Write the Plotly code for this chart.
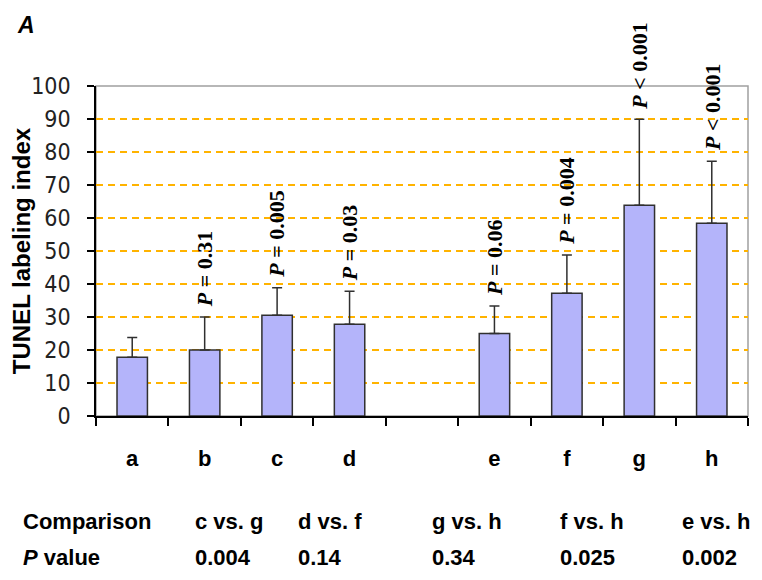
import plotly.graph_objects as go

categories = ["a", "b", "c", "d", " ", "e", "f", "g", "h"]
means = [17.8, 20.0, 30.5, 27.8, None, 25.0, 37.2, 63.9, 58.4]
errors = [6.0, 10.0, 8.4, 10.0, None, 8.3, 11.6, 26.0, 18.8]
p_labels = [None, "<i>P</i> = 0.31", "<i>P</i> = 0.005", "<i>P</i> = 0.03", None,
            "<i>P</i> = 0.06", "<i>P</i> = 0.004", "<i>P</i> &lt; 0.001", "<i>P</i> &lt; 0.001"]
comparisons = ["c vs. g", "d vs. f", "g vs. h", "f vs. h", "e vs. h"]
comparison_p = ["0.004", "0.14", "0.34", "0.025", "0.002"]

# the page body has an 8px default margin; lay the figure out in window pixels
OFF = 8
W, H = 762 - OFF, 580 - OFF
PLOT_L, PLOT_R, PLOT_T, PLOT_B = 96, 748, 86, 416  # window pixels
ML = PLOT_L - OFF
MT = PLOT_T - OFF
MR = W - (PLOT_R - OFF)
MB = H - (PLOT_B - OFF)
PW = PLOT_R - PLOT_L
PH = PLOT_B - PLOT_T


def px_x(px):
    return (px - PLOT_L) / PW


def px_y(py):
    return (PLOT_B - py) / PH


fig = go.Figure()
fig.add_trace(go.Bar(
    x=categories, y=means, width=0.42,
    marker=dict(color="#B4B4FA", line=dict(color="#303030", width=1.5)),
    error_y=dict(type="data", array=errors, arrayminus=[0] * len(errors),
                 symmetric=False, color="#303030", thickness=1.5, width=5),
    showlegend=False,
))

# plot-area border (gray)
fig.add_shape(type="rect", xref="paper", yref="paper", x0=0, x1=1, y0=0, y1=1,
              line=dict(color="#A0A0A0", width=1.5), layer="below")

ann = []
for cat, m, e, lab in zip(categories, means, errors, p_labels):
    if lab is None:
        continue
    ann.append(dict(x=cat, y=m + e, xref="x", yref="y", text=lab, textangle=-90,
                    showarrow=False, yanchor="bottom", xanchor="center", yshift=8,
                    font=dict(family="Liberation Serif, Times New Roman, serif",
                              size=22, color="#000000", weight="bold")))

ann.append(dict(x=px_x(15), y=px_y(25), xref="paper", yref="paper", text="<b><i>A</i></b>",
                showarrow=False, xanchor="left", yanchor="middle",
                font=dict(family="Liberation Sans, Arial, sans-serif", size=23, color="#000")))

tfont = dict(family="Liberation Sans, Arial, sans-serif", size=22, color="#000", weight="bold")
ann.append(dict(x=px_x(21), y=px_y(521), xref="paper", yref="paper", text="Comparison",
                showarrow=False, xanchor="left", yanchor="middle", font=tfont))
ann.append(dict(x=px_x(21), y=px_y(557), xref="paper", yref="paper", text="<i>P</i> value",
                showarrow=False, xanchor="left", yanchor="middle", font=tfont))
col_px = [193, 296, 430, 558, 680]
for cx, comp, pv in zip(col_px, comparisons, comparison_p):
    ann.append(dict(x=px_x(cx), y=px_y(521), xref="paper", yref="paper", text=comp,
                    showarrow=False, xanchor="left", yanchor="middle", font=tfont))
    ann.append(dict(x=px_x(cx), y=px_y(557), xref="paper", yref="paper", text=pv,
                    showarrow=False, xanchor="left", yanchor="middle", font=tfont))

fig.update_layout(
    width=W, height=H,
    margin=dict(l=ML, r=MR, t=MT, b=MB, pad=0, autoexpand=False),
    paper_bgcolor="white", plot_bgcolor="white",
    annotations=ann,
    xaxis=dict(type="category", categoryorder="array", categoryarray=categories,
               showgrid=False, showline=True, linecolor="#000", linewidth=1.5,
               ticks="outside", tickson="boundaries", ticklen=8, tickwidth=1.5,
               tickcolor="#000", ticklabelstandoff=22, automargin=False,
               tickfont=dict(family="Liberation Sans, Arial, sans-serif", size=22,
                             color="#000", weight="bold"),
               range=[-0.5, 8.5], fixedrange=True),
    yaxis=dict(range=[0, 100], dtick=10, showgrid=True, gridcolor="#FFB300",
               griddash="7px,5px", gridwidth=1.5, zeroline=False,
               showline=True, linecolor="#000", linewidth=1.5,
               ticks="outside", ticklen=7, tickwidth=1.5, tickcolor="#000",
               ticklabelstandoff=12, automargin=False,
               tickfont=dict(family="DejaVu Sans Condensed, Liberation Sans, sans-serif",
                             size=23, color="#222"),
               title=dict(text="TUNEL labeling index", standoff=14,
                          font=dict(family="Liberation Sans, Arial, sans-serif", size=24,
                                    color="#000", weight="bold")),
               fixedrange=True),
    bargap=0.58,
)

fig.write_html("out.html")
